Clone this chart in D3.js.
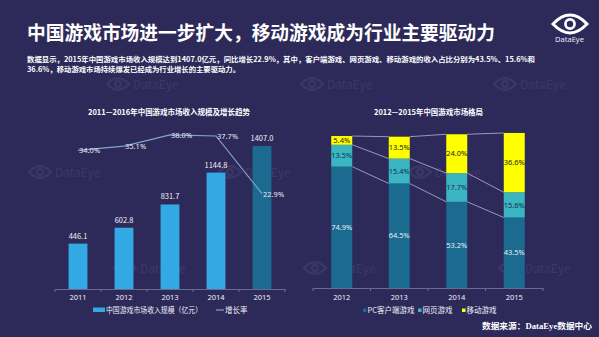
<!DOCTYPE html>
<html><head><meta charset="utf-8">
<script src="https://cdn.jsdelivr.net/npm/d3@7"></script>
<style>
html,body{margin:0;padding:0;background:#2d2a5a;}
svg{display:block;font-family:"Noto Sans CJK SC","Noto Sans",sans-serif;}
</style></head>
<body><svg id="c" width="599" height="337"></svg>
<script>
// ---- data ----
const years1 = ["2011","2012","2013","2014","2015"];
const revenue = [446.1, 602.8, 831.7, 1144.8, 1407.0];
const growth = [34.0, 35.1, 38.0, 37.7, 22.9];
const revenueLabels = ["446.1","602.8","831.7","1144.8","1407.0"];
const growthLabels = ["34.0%","35.1%","38.0%","37.7%","22.9%"];
const years2 = ["2012","2013","2014","2015"];
const pcShare = [74.9, 64.5, 53.2, 43.5];
const webShare = [13.5, 15.4, 17.7, 15.6];
const mobileShare = [5.4, 13.5, 24.0, 36.6];
const seriesNames = ["PC客户端游戏","网页游戏","移动游戏"];

const svg = d3.select("#c");
const W = 599, H = 337;
svg.append("rect").attr("width",W).attr("height",H).attr("fill","#2d2a5a");

// faint watermarks
function eye(g, cx, cy, w, color, sw){
  const h = w*0.42;
  g.append("path")
   .attr("d",`M${cx-w/2},${cy} Q${cx},${cy-h*1.25} ${cx+w/2},${cy} Q${cx},${cy+h*1.25} ${cx-w/2},${cy}Z`)
   .attr("fill","none").attr("stroke",color).attr("stroke-width",sw);
  g.append("circle").attr("cx",cx).attr("cy",cy).attr("r",h*0.32)
   .attr("fill","none").attr("stroke",color).attr("stroke-width",sw*0.9);
}
const wm = svg.append("g").attr("opacity",0.06);
[[118,84],[312,84],[505,84],[40,172],[230,172],[420,172],[125,268],[315,268],[510,268]].forEach(([x,y])=>{
  eye(wm, x, y, 22, "#ffffff", 2.5);
  wm.append("text").attr("x",x+15).attr("y",y+4.5).attr("fill","#fff").attr("font-size",12).text("DataEye");
});

// title
svg.append("text").attr("x",27).attr("y",40).attr("fill","#fff")
  .attr("font-size",19).attr("font-weight","bold")
  .attr("textLength",468).attr("lengthAdjust","spacingAndGlyphs")
  .text("中国游戏市场进一步扩大，移动游戏成为行业主要驱动力");
svg.append("text").attr("x",27).attr("y",62).attr("fill","#fff")
  .attr("font-size",7).attr("font-weight","bold")
  .attr("textLength",508).attr("lengthAdjust","spacingAndGlyphs")
  .text("数据显示，2015年中国游戏市场收入规模达到1407.0亿元，同比增长22.9%，其中，客户端游戏、网页游戏、移动游戏的收入占比分别为43.5%、15.6%和");
svg.append("text").attr("x",27).attr("y",72.3).attr("fill","#fff")
  .attr("font-size",7).attr("font-weight","bold")
  .attr("textLength",213).attr("lengthAdjust","spacingAndGlyphs")
  .text("36.6%，移动游戏市场持续爆发已经成为行业增长的主要驱动力。");

// logo
const logo = svg.append("g");
eye(logo, 570, 24, 34, "#ffffff", 3);
logo.append("text").attr("x",569.5).attr("y",42).attr("text-anchor","middle")
  .attr("fill","#e8e8f4").attr("font-size",7.5).attr("font-family","Noto Sans, sans-serif").text("DataEye");

// ---------- left chart ----------
const x1 = d3.scaleBand().domain(years1).range([55,285]).paddingInner(0.59).paddingOuter(0.295);
const y1 = d3.scaleLinear().domain([0,1500]).range([289,136.5]);
const yg = d3.scaleLinear().domain([0,40]).range([283,127]);
const L = svg.append("g");
L.append("text").attr("x",169).attr("y",115).attr("text-anchor","middle").attr("fill","#fff")
  .attr("font-size",7.5).attr("font-weight","bold")
  .attr("textLength",162).attr("lengthAdjust","spacingAndGlyphs")
  .text("2011—2016年中国游戏市场收入规模及增长趋势");

L.selectAll("rect.bar").data(years1).join("rect").attr("class","bar")
  .attr("x",d=>x1(d)).attr("width",x1.bandwidth())
  .attr("y",(d,i)=>y1(revenue[i])).attr("height",(d,i)=>y1(0)-y1(revenue[i]))
  .attr("fill",(d,i)=> i===4 ? "#1d6a91" : "#33a9e4");
L.selectAll("text.val").data(years1).join("text").attr("class","val")
  .attr("x",d=>x1(d)+x1.bandwidth()/2).attr("y",(d,i)=>y1(revenue[i])-5)
  .attr("text-anchor","middle").attr("fill","#f0f0f8").attr("font-size",7.5)
  .text((d,i)=>revenueLabels[i]);

const ax1 = L.append("g").attr("transform","translate(0,289)")
  .call(d3.axisBottom(x1).tickSize(0).tickPadding(6));
ax1.select(".domain").attr("stroke","#6c6a94").attr("stroke-width",1);
ax1.selectAll("text").attr("fill","#f0f0f8").attr("font-size",7.5).attr("font-family","Noto Sans, sans-serif");
[0,1,2,3,4,5].forEach(i=>{
  const xx = 55 + i*x1.step();
  L.append("line").attr("x1",xx).attr("x2",xx).attr("y1",289).attr("y2",292).attr("stroke","#6c6a94");
});

const cx1 = d=>x1(d)+x1.bandwidth()/2;
L.append("path").datum(years1)
  .attr("d", d3.line().x(d=>cx1(d)).y((d,i)=>yg(growth[i])))
  .attr("fill","none").attr("stroke","#7ea6cc").attr("stroke-width",1.2);
L.selectAll("text.g").data(years1).join("text").attr("class","g")
  .attr("x",d=>cx1(d)+1).attr("y",(d,i)=>yg(growth[i])+3)
  .attr("fill","#e8eaf6").attr("font-size",7.5).attr("font-family","Noto Sans, sans-serif")
  .text((d,i)=>growthLabels[i]);

// legend left
L.append("rect").attr("x",93).attr("y",307.5).attr("width",12).attr("height",4.5).attr("fill","#33a9e4");
L.append("text").attr("x",106).attr("y",313).attr("fill","#f0f0f8").attr("font-size",7.5)
  .attr("textLength",96).attr("lengthAdjust","spacingAndGlyphs").text("中国游戏市场收入规模（亿元）");
L.append("line").attr("x1",216).attr("x2",224).attr("y1",310).attr("y2",310).attr("stroke","#7ea6cc").attr("stroke-width",1.2);
L.append("text").attr("x",225).attr("y",313).attr("fill","#f0f0f8").attr("font-size",7.5).text("增长率");

// ---------- right chart ----------
const x2 = d3.scaleBand().domain(years2).range([313,543]).paddingInner(0.635).paddingOuter(0.3175);
const y2 = d3.scaleLinear().domain([0,100]).range([288,126]);
const R = svg.append("g");
R.append("text").attr("x",428.5).attr("y",115).attr("text-anchor","middle").attr("fill","#fff")
  .attr("font-size",7.5).attr("font-weight","bold")
  .attr("textLength",109).attr("lengthAdjust","spacingAndGlyphs")
  .text("2012—2015年中国游戏市场格局");

const table = years2.map((y,i)=>({year:y, pc:pcShare[i], web:webShare[i], mobile:mobileShare[i]}));
const stack = d3.stack().keys(["pc","web","mobile"])(table);
const colors = ["#1b6a90","#3cb5c2","#ffff00"];
const textColors = ["#e6eef8","#14304a","#1a1a1a"];

// connector lines
stack.forEach((layer)=>{
  for(let i=0;i<years2.length-1;i++){
    R.append("line")
      .attr("x1",x2(years2[i])+x2.bandwidth()).attr("y1",y2(layer[i][1]))
      .attr("x2",x2(years2[i+1])).attr("y2",y2(layer[i+1][1]))
      .attr("stroke","#b4b2d4").attr("stroke-width",0.8);
  }
});

stack.forEach((layer,k)=>{
  R.selectAll(null).data(layer).join("rect")
    .attr("x",d=>x2(d.data.year)).attr("width",x2.bandwidth())
    .attr("y",d=>y2(d[1])).attr("height",d=>y2(d[0])-y2(d[1]))
    .attr("fill",colors[k]);
  R.selectAll(null).data(layer).join("text")
    .attr("x",d=>x2(d.data.year)+x2.bandwidth()/2).attr("y",d=>(y2(d[0])+y2(d[1]))/2+2.7)
    .attr("text-anchor","middle").attr("fill",textColors[k]).attr("font-size",7.5)
    .attr("font-family","Noto Sans, sans-serif")
    .text(d=>(d[1]-d[0]).toFixed(1)+"%");
});

const ax2 = R.append("g").attr("transform","translate(0,288)")
  .call(d3.axisBottom(x2).tickSize(0).tickPadding(7));
ax2.select(".domain").attr("stroke","#6c6a94").attr("stroke-width",1);
ax2.selectAll("text").attr("fill","#f0f0f8").attr("font-size",7.5).attr("font-family","Noto Sans, sans-serif");
[0,1,2,3,4].forEach(i=>{
  const xx = 313 + i*x2.step();
  R.append("line").attr("x1",xx).attr("x2",xx).attr("y1",288).attr("y2",291).attr("stroke","#6c6a94");
});

// legend right
const legX = [363,418,462];
seriesNames.forEach((n,k)=>{
  R.append("rect").attr("x",legX[k]).attr("y",308.5).attr("width",3.5).attr("height",3.5).attr("fill",colors[k]);
  R.append("text").attr("x",legX[k]+4.5).attr("y",313).attr("fill","#f0f0f8").attr("font-size",7.5).text(n);
});

// source
svg.append("text").attr("x",592).attr("y",328.5).attr("text-anchor","end").attr("fill","#fff")
  .attr("font-size",8.5).attr("font-weight","bold")
  .attr("textLength",110).attr("lengthAdjust","spacingAndGlyphs")
  .html('数据来源：<tspan font-family="Liberation Serif, serif">DataEye</tspan>数据中心');
</script>
</body></html>
